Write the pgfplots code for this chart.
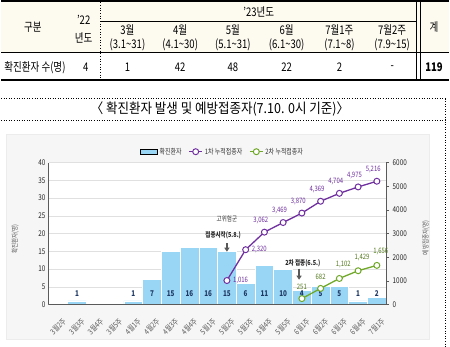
\documentclass[border=0pt]{standalone}
\usepackage{pgfplots}
\pgfplotsset{compat=1.18}
\usepackage{pgfplotstable}
\usepackage{fontspec}
\setmainfont{Noto Sans CJK KR}[FakeStretch=0.8]
\newfontfamily\titlefont{Noto Sans CJK KR}[FakeStretch=0.9]
\usetikzlibrary{arrows.meta}
\definecolor{barblue}{RGB}{153,214,245}
\definecolor{lpurple}{RGB}{112,48,160}
\definecolor{lgreen}{RGB}{112,168,40}
\definecolor{tgreen}{RGB}{84,122,30}
\definecolor{navy}{RGB}{31,56,100}
\definecolor{hdr}{RGB}{253,250,240}
\definecolor{chartbg}{RGB}{246,246,246}
\definecolor{gridc}{RGB}{224,224,224}
\definecolor{axc}{RGB}{90,90,90}

\pgfplotstableread{
idx cases lbl
0 0 {}
1 1 1
2 0 {}
3 0 {}
4 1 1
5 7 7
6 15 15
7 16 16
8 16 16
9 15 15
10 6 6
11 11 11
12 10 10
13 4 4
14 5 5
15 5 5
16 1 1
17 2 2
}\tblcases

\pgfplotstableread{
idx first
9 1016
10 2320
11 3062
12 3469
13 3870
14 4369
15 4704
16 4975
17 5216
}\firstdose

\pgfplotstableread{
idx second
13 251
14 682
15 1102
16 1429
17 1656
}\seconddose

\newcommand{\tf}{\fontsize{12}{14}\selectfont}
\newcommand{\td}{\textasciitilde}

\begin{document}
\begin{tikzpicture}[x=1bp,y=1bp]
\begin{scope}[shift={(-48,306)}, yscale=-1]
\path (0,0) rectangle (450,348);
% ---------- table ----------
\fill[hdr] (0,2.3) rectangle (450,53);
\draw[line width=2.2bp] (0,1.1) -- (450,1.1);
\draw[line width=2.2bp] (0,80) -- (450,80);
\draw[line width=1bp] (0,53) -- (450,53);
\draw[line width=0.6bp] (100,21) -- (417.5,21);
\draw[line width=0.7bp, dotted] (100,2.3) -- (100,79);
\draw[line width=0.7bp] (417.5,2.3) -- (417.5,79) (420.8,2.3) -- (420.8,79);
\begin{scope}[every node/.style={inner sep=0pt, font=\tf, text=black}]
\node at (32,27) {구분};
\node at (83,20) {'22};
\node at (83,38) {년도};
\node at (259,11.5) {'23년도};
\node at (127,30) {3월};   \node at (127,45) {(3.1\td31)};
\node at (180,30) {4월};   \node at (180,45) {(4.1\td30)};
\node at (233,30) {5월};   \node at (233,45) {(5.1\td31)};
\node at (287,30) {6월};   \node at (287,45) {(6.1\td30)};
\node at (340,30) {7월1주}; \node at (340,45) {(7.1\td8)};
\node at (393,30) {7월2주}; \node at (393,45) {(7.9\td15)};
\node at (435,27) {계};
\node at (34,68) {확진환자 수(명)};
\node at (85,68) {4};
\node at (127,68) {1};
\node at (180,68) {42};
\node at (233,68) {48};
\node at (287,68) {22};
\node at (340,68) {2};
\node at (393,68) {-};
\node at (435,68) {\bfseries 119};
\end{scope}
% ---------- title ----------
\draw[dotted, line width=0.6bp] (0,99) -- (446,99) (0,121) -- (446,121) (446,99) -- (446,348);
\node[inner sep=0pt, font=\titlefont\fontsize{14}{16}\selectfont] at (220,110) {〈 확진환자 발생 및 예방접종자(7.10. 0시 기준)〉};
% ---------- chart box ----------
\filldraw[fill=chartbg, draw=gray!15] (5,135) rectangle (430,341);
\end{scope}

\begin{axis}[
  scale only axis, width=339bp, height=142.5bp,
  xmin=-0.5, xmax=17.5, ymin=0, ymax=40,
  axis x line*=bottom, axis y line*=left,
  axis line style={draw=axc, line width=0.8bp, -},
  axis background/.style={fill=white},
  ytick={0,5,...,40},
  ymajorgrids, grid style={draw=gridc, line width=0.5bp},
  xtick={0,...,17},
  xticklabels={3월2주,3월3주,3월4주,3월5주,4월1주,4월2주,4월3주,4월4주,5월1주,5월2주,5월3주,5월4주,5월5주,6월1주,6월2주,6월3주,6월4주,7월1주},
  xticklabel style={font=\fontsize{8}{9}\selectfont, text=axc, anchor=north east, inner sep=0.5bp, yshift=-12bp, xshift=4bp, rotate=45},
  yticklabel style={font=\fontsize{8}{9}\selectfont, text=black!85},
  major tick length=0pt,
  /pgf/number format/assume math mode=true,
  ylabel={확진환자(명)},
  ylabel style={font=\fontsize{7}{8}\selectfont, text=axc, at={(axis description cs:-0.1,0.46)}, anchor=center},
  clip=false,
]
\addplot[ybar, bar width=1, fill=barblue, draw=white, line width=0.6bp] table[x=idx, y=cases] {\tblcases};
\addplot[draw=none, mark=none, nodes near coords, point meta=explicit symbolic,
  nodes near coords style={anchor=center, font=\fontsize{8}{9}\selectfont\bfseries, text=navy, inner sep=0pt}]
  table[x=idx, y expr=3.1, meta=lbl] {\tblcases};
\node[font=\fontsize{7}{8}\selectfont, text=black!80, inner sep=0pt] at (axis cs:9,24.1) {고위험군};
\node[font=\fontsize{7}{8}\selectfont\bfseries, text=black!85, inner sep=0pt] at (axis cs:8.8,19.4) {접종시작(5.8.)};
\draw[-{Triangle[width=5bp,length=4bp]}, line width=1.4bp, draw=gray!70!black] (axis cs:9,17.3) -- (axis cs:9,14.9);
\node[font=\fontsize{7}{8}\selectfont\bfseries, text=black!85, inner sep=0pt] at (axis cs:13.05,11.5) {2차 접종(6.5.)};
\draw[-{Triangle[width=5bp,length=4bp]}, line width=1.4bp, draw=gray!70!black] (axis cs:12.85,10.1) -- (axis cs:12.85,7.0);
\end{axis}

\begin{axis}[
  scale only axis, width=339bp, height=142.5bp,
  xmin=-0.5, xmax=17.5, ymin=0, ymax=6000,
  axis x line*=bottom, axis y line*=right,
  xtick=\empty,
  axis line style={draw=axc, line width=0.8bp, -},
  ytick={0,1000,...,6000},
  major tick length=3bp, tick align=outside, tick style={draw=axc, line width=0.6bp},
  yticklabel style={font=\fontsize{8}{9}\selectfont, text=black!85, /pgf/number format/1000 sep={}},
  /pgf/number format/assume math mode=true,
  ylabel={예방접종자(명)},
  ylabel style={font=\fontsize{7}{8}\selectfont, text=axc, at={(axis description cs:1.118,0.47)}, anchor=center},
  clip=false,
  legend style={at={(0.262,1)}, anchor=south west, yshift=3bp, draw=none, fill=none,
    font=\fontsize{7.5}{8}\selectfont, text=black!80, /tikz/every even column/.append style={column sep=5bp}},
  legend columns=3, legend cell align=left,
]
\addlegendimage{area legend, fill=barblue, draw=none}
\addlegendentry{확진환자}
\addplot[lpurple, line width=1.3bp, mark=*, mark size=3bp, mark options={fill=white, line width=1bp},
  legend image code/.code={\draw[mark repeat=2, mark phase=2] plot coordinates {(0bp,0bp) (6.5bp,0bp) (13bp,0bp)};}]
  table[x=idx, y=first] {\firstdose};
\addlegendentry{1차 누적접종자}
\addplot[lgreen, line width=1.3bp, mark=*, mark size=3bp, mark options={fill=white, line width=1bp},
  legend image code/.code={\draw[mark repeat=2, mark phase=2] plot coordinates {(0bp,0bp) (6.5bp,0bp) (13bp,0bp)};}]
  table[x=idx, y=second] {\seconddose};
\addlegendentry{2차 누적접종자}
% labels
\addplot[draw=none, mark=none, forget plot, restrict x to domain=9:10, point meta=y,
  nodes near coords={\pgfmathprintnumber[1000 sep={,}]{\pgfplotspointmeta}},
  nodes near coords style={anchor=west, xshift=5bp, font=\fontsize{7.5}{8}\selectfont, text=lpurple, inner sep=1bp}]
  table[x=idx, y=first] {\firstdose};
\addplot[draw=none, mark=none, forget plot, restrict x to domain=11:17, point meta=y,
  nodes near coords={\pgfmathprintnumber[1000 sep={,}]{\pgfplotspointmeta}},
  nodes near coords style={anchor=south east, xshift=5bp, yshift=7bp, font=\fontsize{7.5}{8}\selectfont, text=lpurple, inner sep=1bp}]
  table[x=idx, y=first] {\firstdose};
\addplot[draw=none, mark=none, forget plot, restrict x to domain=13:14, point meta=y,
  nodes near coords={\pgfmathprintnumber[1000 sep={,}]{\pgfplotspointmeta}},
  nodes near coords style={anchor=south, yshift=8bp, font=\fontsize{7.5}{8}\selectfont, text=tgreen, inner sep=1bp}]
  table[x=idx, y=second] {\seconddose};
\addplot[draw=none, mark=none, forget plot, restrict x to domain=15:17, point meta=y,
  nodes near coords={\pgfmathprintnumber[1000 sep={,}]{\pgfplotspointmeta}},
  nodes near coords style={anchor=south, xshift=4bp, yshift=9bp, font=\fontsize{7.5}{8}\selectfont, text=tgreen, inner sep=1bp}]
  table[x=idx, y=second] {\seconddose};
\end{axis}
\end{tikzpicture}
\end{document}
